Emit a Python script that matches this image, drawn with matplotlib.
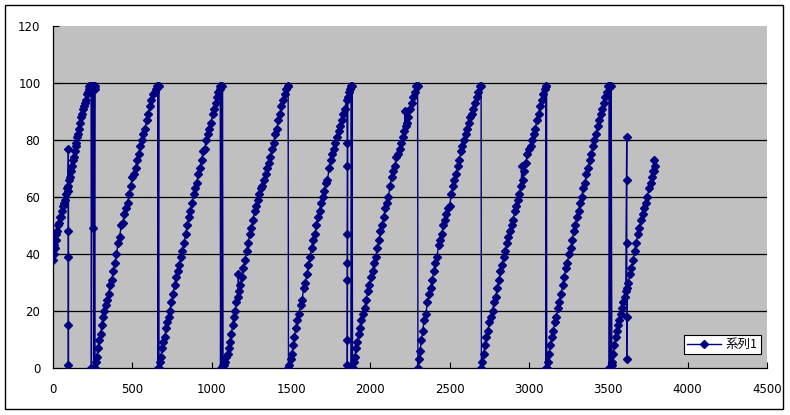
import matplotlib
matplotlib.use("Agg")
import matplotlib.pyplot as plt
from matplotlib.patches import Rectangle

# Values, one list pair per rising ramp
seg1_x = [0, 2, 4, 6, 10, 16, 22, 28, 34, 40, 46, 52, 58, 64, 70, 76, 82, 88, 94,
          97, 97, 97, 97, 97, 97,
          100, 106, 112, 118, 124, 130, 136, 142, 148, 154, 160, 166, 172, 178, 184,
          190, 196, 202, 208, 214, 220, 224,
          228, 232, 236, 240, 242, 246, 250, 252, 256, 258, 262, 264, 265]
seg1_y = [38, 45, 40, 43, 42, 45, 47, 48, 50, 51, 53, 53, 55, 57, 58, 59, 61, 63, 64,
          77, 48, 39, 15, 1, 62,
          66, 67, 69, 71, 73, 74, 76, 78, 79, 81, 82, 84, 86, 88, 89,
          91, 92, 93, 94, 96, 97, 99,
          98, 99, 97, 99, 0, 99, 49, 99, 99, 0, 99, 98, 0]

seg2_x = [268, 276, 284, 292, 300, 308, 316, 324, 332, 340,
          350, 360, 370, 380, 390, 400, 410, 420, 430, 440,
          450, 460, 470, 480, 490, 500, 510, 520, 530, 540,
          550, 560, 570, 580, 590, 600, 610, 620, 630, 640,
          648, 656, 660, 662, 666, 668]
seg2_y = [2, 4, 7, 10, 12, 15, 18, 20, 22, 24,
          26, 29, 31, 34, 37, 40, 44, 46, 50, 51,
          54, 56, 58, 61, 64, 67, 68, 70, 73, 75,
          78, 80, 82, 84, 87, 89, 92, 94, 96, 97,
          98, 99, 99, 0, 99, 0]

seg3_x = [672, 680, 688, 696, 704, 712, 720, 728, 736,
          746, 756, 766, 776, 786, 796, 806, 816, 826, 836,
          846, 856, 866, 876, 886, 896, 906, 916, 926, 936,
          946, 956, 966, 976, 986, 996, 1006, 1016, 1026,
          1034, 1042, 1050, 1054, 1056, 1060, 1064, 1068, 1072]
seg3_y = [2, 4, 7, 9, 11, 14, 16, 18, 20,
          23, 26, 29, 32, 34, 36, 39, 41, 44, 47,
          50, 53, 55, 58, 61, 63, 65, 68, 70, 73,
          76, 77, 80, 82, 84, 86, 89, 91, 93,
          95, 97, 99, 98, 0, 99, 0, 99, 1]

seg4_x = [1076, 1084, 1092, 1100, 1108, 1116, 1124, 1132, 1140, 1148, 1156, 1164, 1168, 1172,
          1180,
          1190, 1200, 1210, 1220, 1230, 1240, 1250, 1260, 1270, 1280,
          1290, 1300, 1310, 1320, 1330, 1340, 1350, 1360, 1370, 1380,
          1390, 1400, 1410, 1420, 1430, 1440, 1450, 1460, 1470,
          1478, 1482, 1484]
seg4_y = [1, 2, 4, 5, 7, 9, 12, 15, 18, 20, 23, 25, 33, 27,
          29,
          32, 35, 38, 41, 44, 47, 49, 52, 55, 57,
          59, 61, 63, 64, 66, 68, 70, 72, 74, 77,
          79, 82, 84, 87, 89, 92, 94, 96, 98,
          99, 99, 0]

seg5_x = [1490, 1498, 1506, 1514, 1522, 1530,
          1540, 1550, 1560, 1570, 1580, 1590, 1600, 1610, 1620, 1630,
          1640, 1650, 1660, 1670, 1680, 1690, 1700, 1710, 1720, 1730,
          1740, 1750, 1760, 1770, 1780, 1790, 1800, 1810, 1820, 1830,
          1840, 1850,
          1855, 1855, 1855, 1855, 1855, 1855, 1855,
          1858, 1864, 1870, 1876, 1878, 1880, 1884, 1888]
seg5_y = [1, 3, 5, 8, 11, 14,
          17, 19, 22, 24, 28, 30, 33, 36, 39, 42,
          45, 47, 50, 53, 55, 58, 60, 62, 65, 66,
          70, 73, 75, 77, 79, 81, 83, 85, 87, 89,
          91, 94,
          79, 71, 47, 37, 31, 10, 1,
          95, 97, 98, 99, 99, 0, 99, 0]

seg6_x = [1894, 1902, 1910, 1918, 1926, 1934,
          1944, 1954, 1964, 1974, 1984, 1994, 2004, 2014, 2024, 2034,
          2044, 2054, 2064, 2074, 2084, 2094, 2104, 2114, 2124, 2134,
          2144, 2154, 2164, 2174, 2184, 2194, 2204, 2214,
          2218, 2222, 2230, 2240, 2250, 2260, 2270, 2280, 2290, 2298, 2300]
seg6_y = [2, 4, 7, 9, 12, 14,
          17, 19, 21, 24, 27, 29, 32, 34, 37, 39,
          42, 45, 48, 50, 53, 56, 58, 60, 64, 67,
          69, 71, 74, 75, 77, 79, 81, 83,
          90, 85, 86, 88, 91, 93, 95, 97, 99, 99, 0]

seg7_x = [2306, 2314, 2322, 2330,
          2340, 2350, 2360, 2370, 2380, 2390, 2400, 2410, 2420, 2430,
          2440, 2450, 2460, 2470, 2480, 2490, 2500, 2510, 2520, 2530,
          2540, 2550, 2560, 2570, 2580, 2590, 2600, 2610, 2620, 2630,
          2640, 2650, 2660, 2670, 2680, 2690,
          2698, 2700]
seg7_y = [3, 6, 10, 13,
          17, 19, 23, 26, 28, 31, 34, 37, 39, 43,
          45, 47, 50, 52, 54, 56, 57, 61, 64, 66,
          68, 71, 73, 76, 78, 80, 82, 84, 86, 88,
          89, 91, 93, 95, 97, 99,
          99, 0]

seg8_x = [2706, 2714, 2722, 2730,
          2740, 2750, 2760, 2770, 2780, 2790, 2800, 2810, 2820, 2830,
          2840, 2850, 2860, 2870, 2880, 2890, 2900, 2910, 2920, 2930,
          2940, 2950, 2955,
          2960, 2970, 2980, 2990, 3000, 3010, 3020, 3030, 3040, 3050,
          3060, 3070, 3080, 3090, 3100,
          3106, 3108, 3110, 3112]
seg8_y = [2, 5, 8, 11,
          13, 16, 18, 20, 23, 25, 28, 31, 34, 36,
          39, 41, 44, 46, 48, 50, 52, 55, 57, 59,
          61, 64, 71,
          66, 69, 72, 75, 77, 78, 80, 82, 84, 87,
          89, 92, 94, 96, 98,
          99, 0, 99, 0]

seg9_x = [3118, 3126, 3134, 3142,
          3152, 3162, 3172, 3182, 3192, 3202, 3212, 3222, 3232, 3242,
          3252, 3262, 3272, 3282, 3292, 3302, 3312, 3322, 3332, 3342,
          3352, 3362, 3372, 3382, 3392, 3402, 3412, 3422, 3432, 3442,
          3452, 3462, 3472, 3482, 3492,
          3500, 3504, 3506, 3510, 3514, 3518, 3522]
seg9_y = [2, 5, 8, 11,
          13, 16, 18, 21, 23, 26, 29, 32, 35, 37,
          40, 42, 45, 48, 50, 53, 55, 58, 60, 63,
          65, 68, 70, 73, 75, 78, 80, 82, 85, 87,
          89, 91, 93, 95, 97,
          99, 99, 0, 99, 0, 99, 1]

seg10_x = [3526, 3532, 3538, 3546, 3554, 3562, 3570, 3578, 3586, 3594, 3602, 3610,
           3616, 3616, 3616, 3616, 3616,
           3618, 3626, 3636, 3646, 3656, 3666, 3676, 3686, 3696, 3706,
           3716, 3726, 3736, 3746, 3756, 3766,
           3774, 3780, 3786, 3790, 3794]
seg10_y = [2, 5, 8, 11, 13, 15, 17, 19, 21, 23, 25, 27,
           81, 66, 44, 18, 3,
           28, 30, 33, 35, 38, 41, 44, 47, 49, 52,
           54, 56, 58, 60, 63, 65,
           67, 69, 73, 69, 71]

series_name = "系列1"
x_ticks = [0, 500, 1000, 1500, 2000, 2500, 3000, 3500, 4000, 4500]
y_ticks = [0, 20, 40, 60, 80, 100, 120]

# Join the ramps into one series
xs = seg1_x + seg2_x + seg3_x + seg4_x + seg5_x + seg6_x + seg7_x + seg8_x + seg9_x + seg10_x
ys = seg1_y + seg2_y + seg3_y + seg4_y + seg5_y + seg6_y + seg7_y + seg8_y + seg9_y + seg10_y

plt.rcParams['font.family'] = ['DejaVu Sans', 'Noto Sans CJK JP']

fig = plt.figure(figsize=(7.9, 4.15), dpi=100)
ax = fig.add_axes([53 / 790, 47 / 415, 714 / 790, 342 / 415])
ax.set_facecolor("#C0C0C0")

ax.plot(xs, ys, color="#000080", linewidth=1.0, marker="D", markersize=4.3,
        markerfacecolor="#000080", markeredgecolor="#000080", label=series_name, zorder=3)

ax.set_xlim(0, 4500)
ax.set_ylim(0, 120)
ax.set_xticks(x_ticks)
ax.set_yticks(y_ticks)
ax.tick_params(axis="both", direction="in", length=4, width=0.8, labelsize=8.5, colors="black")
ax.tick_params(axis="x", pad=11)
ax.tick_params(axis="y", pad=9)

# Black gridlines at the inner ticks only
for yv in y_ticks[1:-1]:
    ax.axhline(yv, color="black", linewidth=0.9, zorder=1)

ax.spines["top"].set_visible(False)
ax.spines["right"].set_visible(False)
ax.spines["left"].set_linewidth(0.9)
ax.spines["bottom"].set_linewidth(0.9)

leg = ax.legend(loc="lower right", bbox_to_anchor=(0.9916, 0.04), borderaxespad=0,
                fancybox=False, framealpha=1, edgecolor="black",
                prop={"family": ["Noto Sans CJK JP", "DejaVu Sans"], "size": 9},
                handlelength=2.7, handletextpad=0.4, borderpad=0.25)
leg.get_frame().set_linewidth(0.8)

# Outer chart border
fig.patches.append(Rectangle((5 / 790, 6 / 415), 778 / 790, 404 / 415, transform=fig.transFigure,
                             fill=False, edgecolor="black", linewidth=1))

plt.savefig("out.png", dpi=100)
plt.close()
